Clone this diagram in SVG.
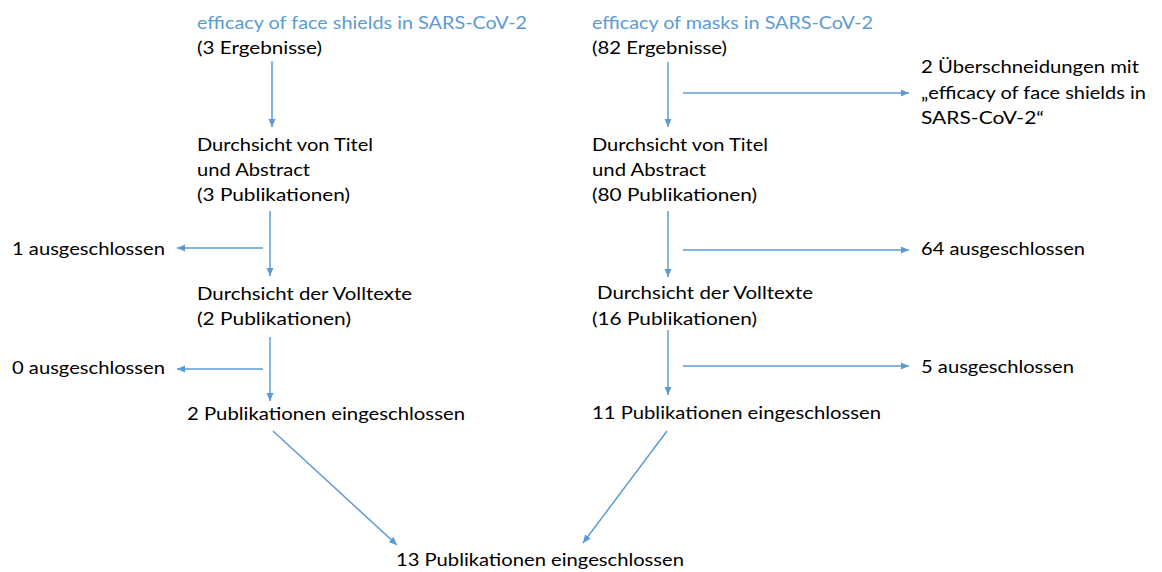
<svg xmlns="http://www.w3.org/2000/svg" width="1162" height="572" viewBox="0 0 1162 572">
<style>
text{font-family:Lato,"Open Sans","Liberation Sans",sans-serif;font-size:17.5px;fill:#000}
text.t{fill:#5B9BD5}
.c line{stroke:#5B9BD5;stroke-width:1.5;fill:none}
</style>
<defs>
<marker id="ah" markerUnits="userSpaceOnUse" markerWidth="10" markerHeight="10" viewBox="0 0 10 10" refX="10" refY="5" orient="auto">
<path d="M2,1.5 L10,5 L2,8.5 Z" fill="#5B9BD5"/>
</marker>
</defs>
<rect width="1162" height="572" fill="#fff"/>
<g id="left-search">
<text class="t" x="197" y="29" textLength="330" lengthAdjust="spacingAndGlyphs">efficacy of face shields in SARS-CoV-2</text>
<text x="197" y="54" textLength="125" lengthAdjust="spacingAndGlyphs">(3 Ergebnisse)</text>
</g>
<g id="left-screen">
<text x="197" y="151" textLength="176" lengthAdjust="spacingAndGlyphs">Durchsicht von Titel</text>
<text x="197" y="176" textLength="113" lengthAdjust="spacingAndGlyphs">und Abstract</text>
<text x="197" y="201" textLength="153" lengthAdjust="spacingAndGlyphs">(3 Publikationen)</text>
</g>
<g id="left-excl1"><text x="12" y="255" textLength="153" lengthAdjust="spacingAndGlyphs">1 ausgeschlossen</text></g>
<g id="left-fulltext">
<text x="197" y="300" textLength="215" lengthAdjust="spacingAndGlyphs">Durchsicht der Volltexte</text>
<text x="197" y="325" textLength="154" lengthAdjust="spacingAndGlyphs">(2 Publikationen)</text>
</g>
<g id="left-excl2"><text x="12" y="374" textLength="153" lengthAdjust="spacingAndGlyphs">0 ausgeschlossen</text></g>
<g id="left-included"><text x="187" y="420" textLength="278" lengthAdjust="spacingAndGlyphs">2 Publikationen eingeschlossen</text></g>
<g id="right-search">
<text class="t" x="592" y="29" textLength="281" lengthAdjust="spacingAndGlyphs">efficacy of masks in SARS-CoV-2</text>
<text x="592" y="54" textLength="135" lengthAdjust="spacingAndGlyphs">(82 Ergebnisse)</text>
</g>
<g id="right-overlap">
<text x="921" y="73" textLength="218" lengthAdjust="spacingAndGlyphs">2 Überschneidungen mit</text>
<text x="921" y="99" textLength="225" lengthAdjust="spacingAndGlyphs">„efficacy of face shields in</text>
<text x="921" y="124" textLength="123" lengthAdjust="spacingAndGlyphs">SARS-CoV-2“</text>
</g>
<g id="right-screen">
<text x="592" y="151" textLength="176" lengthAdjust="spacingAndGlyphs">Durchsicht von Titel</text>
<text x="592" y="176" textLength="114" lengthAdjust="spacingAndGlyphs">und Abstract</text>
<text x="592" y="201" textLength="165" lengthAdjust="spacingAndGlyphs">(80 Publikationen)</text>
</g>
<g id="right-excl1"><text x="921" y="255" textLength="164" lengthAdjust="spacingAndGlyphs">64 ausgeschlossen</text></g>
<g id="right-fulltext">
<text x="597" y="299" textLength="216" lengthAdjust="spacingAndGlyphs">Durchsicht der Volltexte</text>
<text x="592" y="325" textLength="165" lengthAdjust="spacingAndGlyphs">(16 Publikationen)</text>
</g>
<g id="right-excl2"><text x="921" y="373" textLength="153" lengthAdjust="spacingAndGlyphs">5 ausgeschlossen</text></g>
<g id="right-included"><text x="592" y="419" textLength="289" lengthAdjust="spacingAndGlyphs">11 Publikationen eingeschlossen</text></g>
<g id="total"><text x="396" y="566" textLength="288" lengthAdjust="spacingAndGlyphs">13 Publikationen eingeschlossen</text></g>
<g id="connectors" class="c">
<line x1="272" y1="61" x2="272" y2="127" marker-end="url(#ah)"/>
<line x1="270" y1="211" x2="270" y2="276" marker-end="url(#ah)"/>
<line x1="270" y1="337" x2="270" y2="401" marker-end="url(#ah)"/>
<line x1="263" y1="248" x2="177" y2="248" marker-end="url(#ah)"/>
<line x1="263" y1="369" x2="177" y2="369" marker-end="url(#ah)"/>
<line x1="273" y1="431" x2="397" y2="545" marker-end="url(#ah)"/>
<line x1="668" y1="62" x2="668" y2="127" marker-end="url(#ah)"/>
<line x1="668" y1="211" x2="668" y2="277" marker-end="url(#ah)"/>
<line x1="668" y1="330" x2="668" y2="395" marker-end="url(#ah)"/>
<line x1="683" y1="93" x2="909" y2="93" marker-end="url(#ah)"/>
<line x1="683" y1="250" x2="909" y2="250" marker-end="url(#ah)"/>
<line x1="683" y1="366" x2="909" y2="366" marker-end="url(#ah)"/>
<line x1="667" y1="431" x2="583" y2="543" marker-end="url(#ah)"/>
</g>
</svg>
